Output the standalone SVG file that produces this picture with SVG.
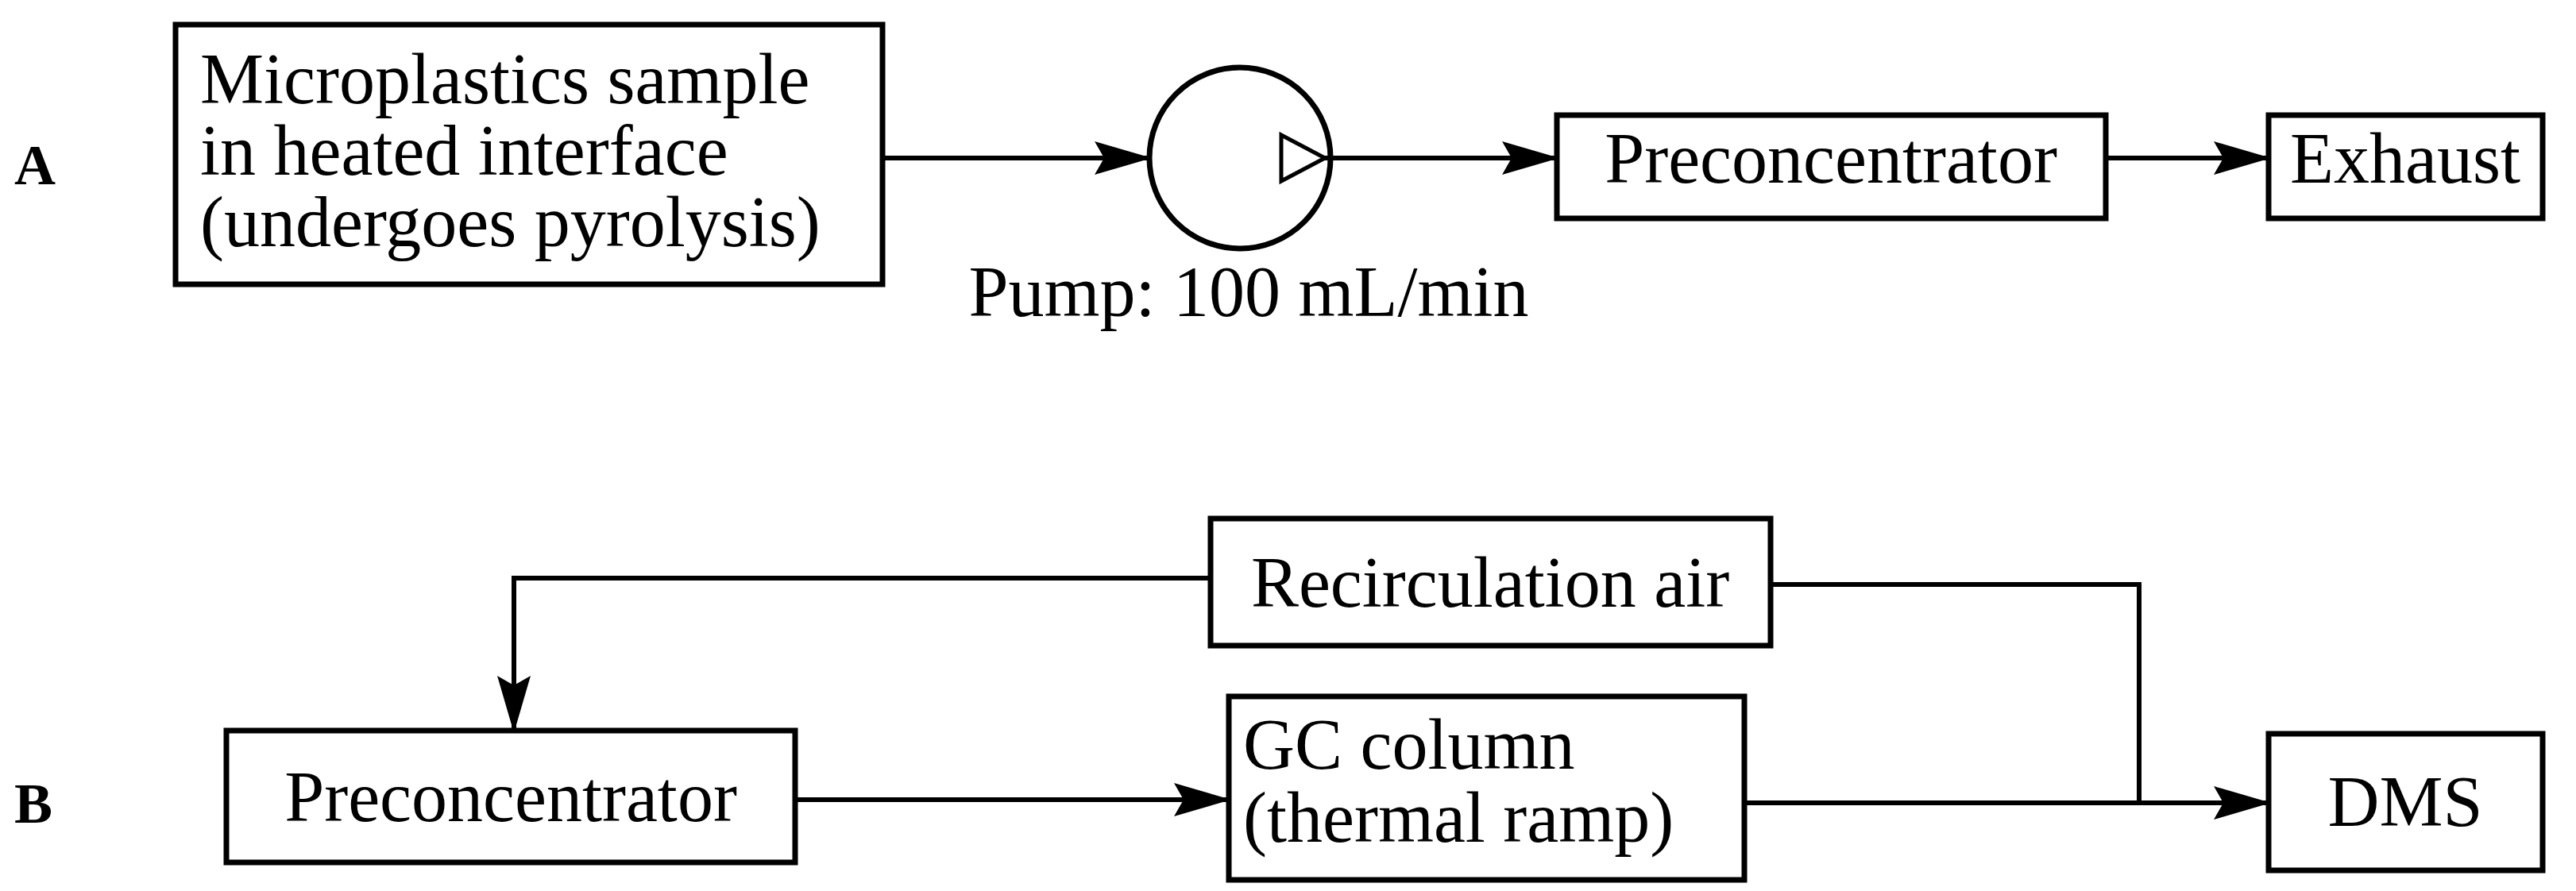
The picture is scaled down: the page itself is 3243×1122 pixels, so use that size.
<svg xmlns="http://www.w3.org/2000/svg" width="3243" height="1122" viewBox="0 0 3243 1122">
<style>
.box{fill:#fff;stroke:#000;stroke-width:7}
.t{font-family:"Liberation Serif","DejaVu Serif",serif;font-size:90px;fill:#000}
.c{text-anchor:middle}
.lbl{font-family:"Liberation Serif",serif;font-size:72px;font-weight:bold}
.ln{fill:none;stroke:#000;stroke-width:6}
</style>
<defs>
<marker id="ah" markerWidth="12" markerHeight="7" refX="11" refY="3.5" orient="auto" markerUnits="strokeWidth"><path d="M0,0 L12,3.5 L0,7 L2,3.5 Z" fill="#000"/></marker>
</defs>
<rect width="3243" height="1122" fill="#fff"/>
<text class="lbl" x="18" y="232">A</text>
<text class="lbl" x="18" y="1036">B</text>
<g id="sample"><rect class="box" x="221" y="31" width="890" height="327"/>
<text class="t" x="252" y="130">Microplastics sample</text>
<text class="t" x="252" y="220">in heated interface</text>
<text class="t" x="252" y="310">(undergoes pyrolysis)</text></g>
<g id="pump"><circle class="box" cx="1561" cy="199" r="114"/>
<path d="M1613,170 L1668,199 L1613,228 Z" fill="#fff" stroke="#000" stroke-width="5"/>
<text class="t c" x="1572" y="398">Pump: 100 mL/min</text></g>
<g id="precA"><rect class="box" x="1960" y="145" width="691" height="130"/><text class="t c" x="2305" y="230">Preconcentrator</text></g>
<g id="exhaust"><rect class="box" x="2856" y="145" width="345" height="130"/><text class="t c" x="3028" y="230">Exhaust</text></g>
<g id="recirc"><rect class="box" x="1524" y="653" width="705" height="160"/><text class="t c" x="1876" y="764">Recirculation air</text></g>
<g id="precB"><rect class="box" x="285" y="920" width="716" height="166"/><text class="t c" x="643" y="1034">Preconcentrator</text></g>
<g id="gc"><rect class="box" x="1547" y="877" width="649" height="231"/>
<text class="t" x="1565" y="968">GC column</text><text class="t" x="1565" y="1060">(thermal ramp)</text></g>
<g id="dms"><rect class="box" x="2856" y="924" width="345" height="172"/><text class="t c" x="3028" y="1040">DMS</text></g>
<g id="connectors">
<line class="ln" x1="1111" y1="199" x2="1444" y2="199" marker-end="url(#ah)"/>
<line class="ln" x1="1668" y1="199" x2="1957" y2="199" marker-end="url(#ah)"/>
<line class="ln" x1="2651" y1="199" x2="2853" y2="199" marker-end="url(#ah)"/>
<polyline class="ln" points="1524,728 647,728 647,917" marker-end="url(#ah)"/>
<polyline class="ln" points="2229,736 2693,736 2693,1011"/>
<line class="ln" x1="1001" y1="1007" x2="1544" y2="1007" marker-end="url(#ah)"/>
<line class="ln" x1="2196" y1="1011" x2="2853" y2="1011" marker-end="url(#ah)"/>
</g>
</svg>
